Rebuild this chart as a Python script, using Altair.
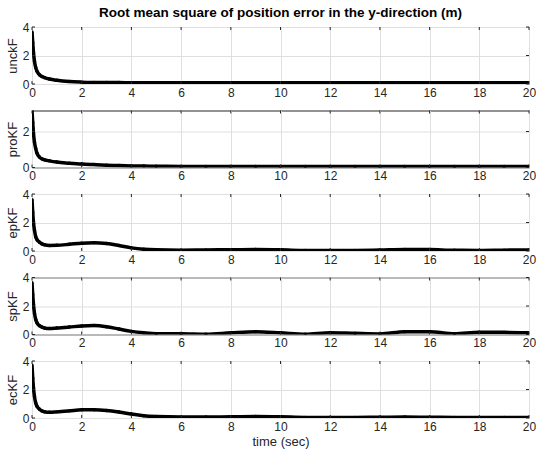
import altair as alt
import pandas as pd

# time samples (s)
t = [0, 0.03, 0.06, 0.1, 0.15, 0.2, 0.3, 0.4, 0.5, 0.7, 1.0, 1.5, 2.0, 2.5, 3.0, 3.5,
     4.0, 4.5, 5, 6, 7, 8, 9, 10, 11, 12, 13, 14, 15, 16, 17, 18, 19, 20]

unckF = [3.65, 2.9, 2.2, 1.6, 1.15, 0.9, 0.65, 0.52, 0.45, 0.35, 0.26, 0.17, 0.13, 0.11, 0.1, 0.1,
         0.09, 0.09, 0.09, 0.08, 0.08, 0.08, 0.08, 0.08, 0.08, 0.08, 0.08, 0.08, 0.08, 0.08, 0.08, 0.08, 0.08, 0.08]
proKF = [3.15, 2.5, 1.9, 1.4, 1.05, 0.8, 0.58, 0.48, 0.43, 0.37, 0.3, 0.24, 0.19, 0.16, 0.13, 0.11,
         0.09, 0.08, 0.07, 0.06, 0.05, 0.05, 0.05, 0.05, 0.05, 0.05, 0.05, 0.05, 0.05, 0.05, 0.05, 0.05, 0.05, 0.05]
epKF = [3.6, 2.7, 2.0, 1.45, 1.0, 0.8, 0.62, 0.5, 0.44, 0.39, 0.4, 0.47, 0.55, 0.58, 0.52, 0.38,
        0.22, 0.12, 0.08, 0.06, 0.07, 0.09, 0.1, 0.08, 0.04, 0.03, 0.04, 0.07, 0.11, 0.1, 0.05, 0.04, 0.06, 0.07]
spKF = [3.63, 2.8, 2.1, 1.5, 1.05, 0.82, 0.62, 0.52, 0.46, 0.42, 0.45, 0.52, 0.6, 0.63, 0.55, 0.38,
        0.22, 0.12, 0.06, 0.06, 0.02, 0.12, 0.2, 0.12, 0.02, 0.13, 0.08, 0.04, 0.2, 0.2, 0.05, 0.16, 0.15, 0.12]
ecKF = [3.7, 2.8, 2.1, 1.5, 1.05, 0.82, 0.62, 0.5, 0.44, 0.4, 0.43, 0.5, 0.58, 0.58, 0.53, 0.42,
        0.28, 0.15, 0.1, 0.07, 0.07, 0.08, 0.1, 0.08, 0.04, 0.04, 0.04, 0.05, 0.07, 0.05, 0.04, 0.04, 0.04, 0.04]

names = ["unckF", "proKF", "epKF", "spKF", "ecKF"]
series = [unckF, proKF, epKF, spKF, ecKF]
ymaxs = [4, 3.17, 4, 4, 4]
x_ticks = [0, 2, 4, 6, 8, 10, 12, 14, 16, 18, 20]
y_tick_set = [0, 2, 4]
title_text = "Root mean square of position error in the y-direction (m)"

W, H = 497, 57
INK = "#262626"


def panel(i):
    name, vals, ymax = names[i], series[i], ymaxs[i]
    last = i == len(names) - 1
    df = pd.DataFrame({"t": t, "v": vals})
    xs = alt.Scale(domain=[0, 20], nice=False, zero=False)
    ys = alt.Scale(domain=[0, ymax], nice=False)
    yt_vals = [v for v in y_tick_set if v <= ymax]
    xaxis = alt.Axis(values=x_ticks, title="time (sec)" if last else None, format="d")
    yaxis = alt.Axis(values=yt_vals, title=name, format="d")
    X = alt.X("t:Q", scale=xs, axis=xaxis)
    Y = alt.Y("v:Q", scale=ys, axis=yaxis)

    line = alt.Chart(df).mark_line(color="black", strokeWidth=3.5, interpolate="monotone", clip=True).encode(x=X, y=Y)
    pts = alt.Chart(df).mark_circle(color="black", size=12, opacity=1, clip=True).encode(x=X, y=Y)

    xt = pd.DataFrame({"t": x_ticks})
    yt = pd.DataFrame({"v": yt_vals})
    top = alt.Chart(xt).mark_rule(color=INK, strokeWidth=1).encode(x=X, y=alt.value(0), y2=alt.value(3))
    bot = alt.Chart(xt).mark_rule(color=INK, strokeWidth=1).encode(x=X, y=alt.value(H), y2=alt.value(H - 3))
    left = alt.Chart(yt).mark_rule(color=INK, strokeWidth=1).encode(y=Y, x=alt.value(0), x2=alt.value(3))
    right = alt.Chart(yt).mark_rule(color=INK, strokeWidth=1).encode(y=Y, x=alt.value(W), x2=alt.value(W - 3))

    props = dict(width=W, height=H)
    if i == 0:
        props["title"] = alt.TitleParams(title_text, fontSize=13.5, fontWeight="bold", font="Liberation Sans",
                                         color="black", anchor="middle", frame="group", offset=2)
    return alt.layer(line, pts, top, bot, left, right).properties(**props)


chart = alt.vconcat(*[panel(i) for i in range(len(names))], spacing=26.5, bounds="flush").properties(
    padding={"left": 5, "top": 5, "right": 0, "bottom": 0}
).configure_view(
    stroke=INK, strokeWidth=1
).configure_axis(
    labelFont="Liberation Sans", labelFontSize=12, labelColor=INK,
    titleFont="Liberation Sans", titleFontSize=13, titleFontWeight="normal", titleColor=INK,
    tickSize=0, domain=False, grid=True, gridColor="#dfdfdf", gridWidth=1,
    labelPadding=3, labelFlush=False, labelOverlap=False, titlePadding=3
)

chart.save("out.html", embed_options={"renderer": "svg", "actions": False})
